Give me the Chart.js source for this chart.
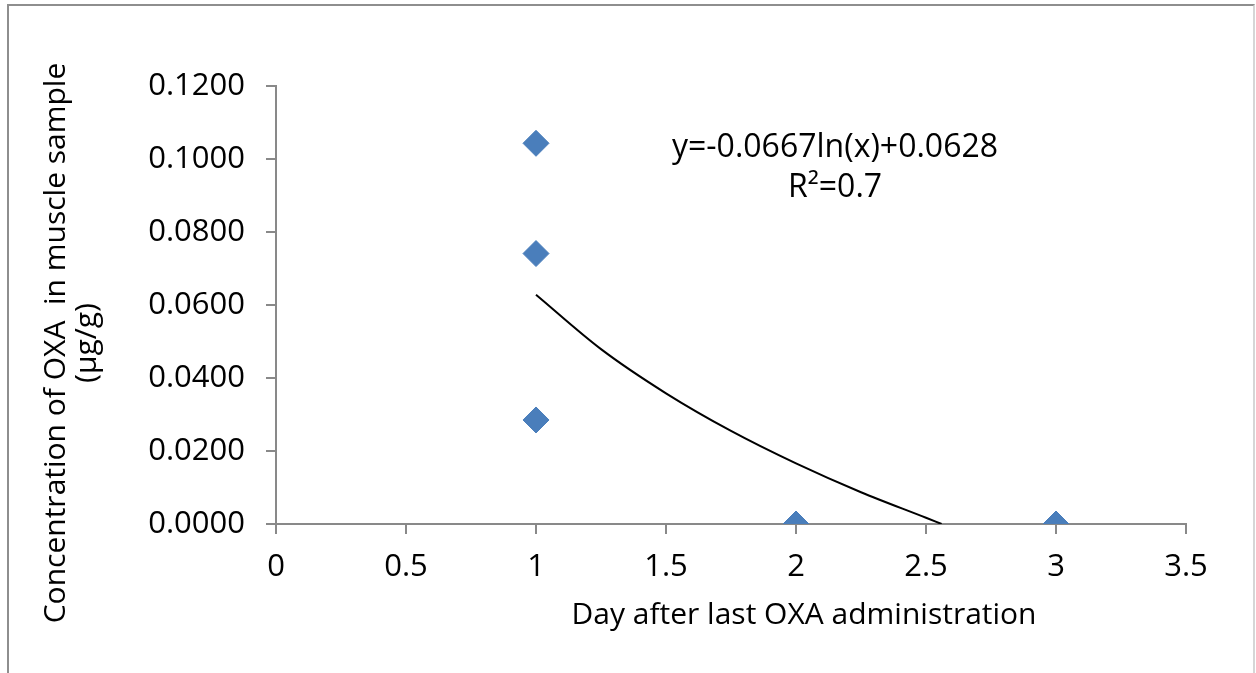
<!DOCTYPE html>
<html>
<head>
<meta charset="utf-8">
<script src="https://cdn.jsdelivr.net/npm/chart.js@4/dist/chart.umd.min.js"></script>
<style>
  html, body { margin: 0; padding: 0; background: #fff; }
  #wrap { position: relative; width: 1256px; height: 673px; overflow: hidden; }
  #frame {
    position: absolute; left: 7px; top: 4px; width: 1244px; height: 720px;
    border: 2px solid #8e8e8e; border-right-color: #d6d6d6; pointer-events: none;
  }
</style>
</head>
<body>
<div id="wrap">
  <canvas id="oxaChart"></canvas>
  <div id="frame"></div>
</div>
<script>
// Dados
const days = [1, 1, 1, 2, 3];
const concentration = [0.1043, 0.0741, 0.0285, 0.0, 0.0];

// Linha de tendência
const trendDays = [1, 1.25, 1.5, 1.75, 2, 2.25, 2.5, 2.56];
const trendValues = [0.0628, 0.0479, 0.0358, 0.0255, 0.0166, 0.0087, 0.0017, 0.0];

const xTicks = [0, 0.5, 1, 1.5, 2, 2.5, 3, 3.5];
const yTicks = [0, 0.02, 0.04, 0.06, 0.08, 0.1, 0.12];

const equationLines = ['y=-0.0667ln(x)+0.0628', 'R\u00B2=0.7'];
const xTitle = 'Day after last OXA administration';
const yTitle = ['Concentration of OXA  in muscle sample', '(\u00B5g/g)'];

const FONT = '"Open Sans", Lato, sans-serif';
const axisColor = '#898989';

// Textos extras: equação e títulos dos eixos
const textPlugin = {
    id: 'textPlugin',
    afterDraw(chart) {
        const ctx = chart.ctx;
        const xs = chart.scales.x, ys = chart.scales.y;
        ctx.save();
        ctx.fillStyle = '#000';
        ctx.textAlign = 'center';
        ctx.textBaseline = 'alphabetic';

        // Equação da tendência
        ctx.font = '32px ' + FONT;
        const ex = xs.getPixelForValue(2.15);
        ctx.fillText(equationLines[0], ex, ys.getPixelForValue(0.1005));
        ctx.fillText(equationLines[1], ex, ys.getPixelForValue(0.0897));

        // Título do eixo X
        ctx.font = '30px ' + FONT;
        ctx.fillText(xTitle, 804, 624);

        // Título do eixo Y
        ctx.translate(0, 343);
        ctx.rotate(-Math.PI / 2);
        ctx.fillText(yTitle[0], 0, 65);
        ctx.fillText(yTitle[1], 0, 96);
        ctx.restore();
    }
};

const ctx = document.getElementById('oxaChart').getContext('2d');
const chart = new Chart(ctx, {
    type: 'scatter',
    data: {
        datasets: [{
            label: 'OXA',
            data: days.map((d, i) => ({ x: d, y: concentration[i] })),
            pointStyle: 'rectRot',
            pointRadius: 13,
            pointBackgroundColor: '#4a7ebb',
            pointBorderColor: '#4a7ebb',
            pointBorderWidth: 1,
            order: 1
        }, {
            type: 'line',
            label: 'Tendência',
            data: trendDays.map((d, i) => ({ x: d, y: trendValues[i] })),
            borderColor: '#000',
            borderWidth: 2,
            pointRadius: 0,
            fill: false,
            cubicInterpolationMode: 'monotone',
            order: 2
        }]
    },
    options: {
        responsive: true,
        maintainAspectRatio: false,
        animation: false,
        layout: { padding: { top: 86, right: 70, left: 0, bottom: 0 } },
        plugins: {
            legend: { display: false },
            tooltip: { enabled: false }
        },
        scales: {
            x: {
                type: 'linear',
                min: 0,
                max: 3.5,
                afterBuildTicks: s => { s.ticks = xTicks.map(v => ({ value: v })); },
                afterFit: s => { s.height = 149; },
                grid: {
                    drawOnChartArea: false,
                    drawTicks: true,
                    tickLength: 10,
                    color: axisColor,
                    lineWidth: 2
                },
                border: { display: true, color: axisColor, width: 2 },
                ticks: {
                    padding: 15,
                    color: '#000',
                    font: { family: FONT, size: 31 },
                    callback: v => String(v)
                }
            },
            y: {
                min: 0,
                max: 0.12,
                afterBuildTicks: s => { s.ticks = yTicks.map(v => ({ value: v })); },
                afterFit: s => { s.width = 276; },
                grid: {
                    drawOnChartArea: false,
                    drawTicks: true,
                    tickLength: 10,
                    color: axisColor,
                    lineWidth: 2
                },
                border: { display: true, color: axisColor, width: 2 },
                ticks: {
                    padding: 21,
                    color: '#000',
                    font: { family: FONT, size: 31 },
                    callback: v => Number(v).toFixed(4)
                }
            }
        }
    },
    plugins: [textPlugin]
});
</script>
</body>
</html>
